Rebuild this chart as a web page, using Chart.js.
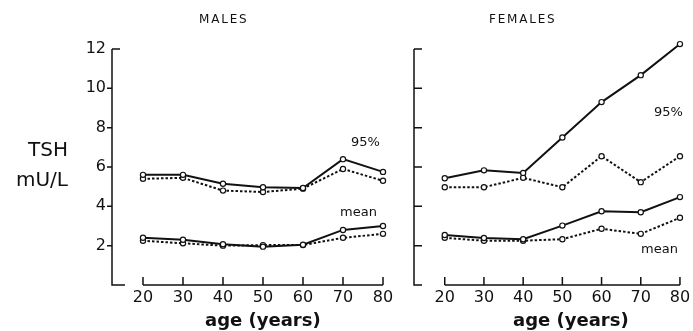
<!DOCTYPE html>
<html>
<head>
<meta charset="utf-8">
<script src="https://cdn.jsdelivr.net/npm/chart.js@4"></script>
<style>
  body { margin: 0; background: #fff; }
  #wrap { position: relative; width: 693px; height: 331px; overflow: hidden; font-family: "DejaVu Sans", sans-serif; color: #111; }
  canvas { position: absolute; top: 0; }
  .lbl { position: absolute; white-space: nowrap; line-height: 1; }
</style>
</head>
<body>
<div id="wrap">
  <canvas id="males" width="400" height="331" style="left:0"></canvas>
  <canvas id="females" width="293" height="331" style="left:400px"></canvas>

  <div class="lbl" style="left:199px; top:13px; font-size:12px; letter-spacing:1.8px;">MALES</div>
  <div class="lbl" style="left:489px; top:13px; font-size:12px; letter-spacing:1.8px;">FEMALES</div>

  <div class="lbl" style="left:28px; top:139px; font-size:20px;">TSH</div>
  <div class="lbl" style="left:16px; top:169px; font-size:20px;">mU/L</div>

  <div class="lbl" style="left:351px; top:135px; font-size:13px;">95%</div>
  <div class="lbl" style="left:340px; top:205px; font-size:13px;">mean</div>
  <div class="lbl" style="left:654px; top:105px; font-size:13px;">95%</div>
  <div class="lbl" style="left:641px; top:242px; font-size:13px;">mean</div>

  <div class="lbl" style="left:205px; top:311px; font-size:18px; font-weight:bold;">age (years)</div>
  <div class="lbl" style="left:513px; top:311px; font-size:18px; font-weight:bold;">age (years)</div>
</div>

<script>
// --- dane ---
const AGES = [20, 30, 40, 50, 60, 70, 80];
const Y_TICKS = [2, 4, 6, 8, 10, 12];

const MALE_95_SOLID    = [5.6, 5.6, 5.15, 4.97, 4.93, 6.4, 5.75];
const MALE_95_DOTTED   = [5.4, 5.45, 4.8, 4.73, 4.9, 5.9, 5.3];
const MALE_MEAN_SOLID  = [2.4, 2.3, 2.07, 1.95, 2.05, 2.8, 3.0];
const MALE_MEAN_DOTTED = [2.25, 2.12, 2.0, 2.03, 2.03, 2.4, 2.6];

const FEMALE_95_SOLID    = [5.43, 5.83, 5.7, 7.5, 9.3, 10.67, 12.25];
const FEMALE_95_DOTTED   = [4.97, 4.97, 5.45, 4.97, 6.55, 5.23, 6.55];
const FEMALE_MEAN_SOLID  = [2.54, 2.39, 2.33, 3.02, 3.75, 3.7, 4.47];
const FEMALE_MEAN_DOTTED = [2.4, 2.25, 2.25, 2.33, 2.86, 2.6, 3.42];

const INK = '#111';

function toPoints(values) {
    return AGES.map((a, i) => ({ x: a, y: values[i] }));
}

function lineSet(values, dotted) {
    return {
        data: toPoints(values),
        borderColor: INK,
        borderWidth: 2,
        borderDash: dotted ? [2.5, 2] : [],
        pointRadius: 2.6,
        pointBackgroundColor: '#fff',
        pointBorderColor: INK,
        pointBorderWidth: 1.2,
        tension: 0,
        clip: false
    };
}

// rysowanie osi "recznie" (styl jak w oryginale: oderwana os X)
const axesPlugin = {
    id: 'paperAxes',
    beforeDatasetsDraw(chart, args, opts) {
        const ctx = chart.ctx;
        const xs = chart.scales.x, ys = chart.scales.y;
        const x0 = xs.left;
        const yBottom = ys.getPixelForValue(0);
        const yTop = ys.getPixelForValue(12);
        ctx.save();
        ctx.strokeStyle = INK;
        ctx.lineWidth = 1.5;
        ctx.beginPath();
        // os Y + krotka stopka
        ctx.moveTo(x0, yTop);
        ctx.lineTo(x0, yBottom);
        ctx.lineTo(x0 + opts.foot, yBottom);
        // znaczniki Y
        Y_TICKS.forEach(t => {
            const py = ys.getPixelForValue(t);
            if (t === 12 || opts.inward) {
                ctx.moveTo(x0, py);
                ctx.lineTo(x0 + 8, py);
            } else {
                ctx.moveTo(x0 - 5, py);
                ctx.lineTo(x0, py);
            }
        });
        // os X od 20 do 80
        const xa = xs.getPixelForValue(AGES[0]);
        const xb = xs.getPixelForValue(AGES[AGES.length - 1]);
        ctx.moveTo(xa, yBottom);
        ctx.lineTo(xb, yBottom);
        AGES.forEach(a => {
            const px = xs.getPixelForValue(a);
            ctx.moveTo(px, yBottom);
            ctx.lineTo(px, yBottom - 8);
        });
        ctx.stroke();

        ctx.fillStyle = INK;
        ctx.font = '16px "DejaVu Sans", sans-serif';
        ctx.textAlign = 'center';
        ctx.textBaseline = 'middle';
        AGES.forEach(a => {
            ctx.fillText(String(a), xs.getPixelForValue(a), yBottom + 13);
        });
        if (opts.yLabels) {
            ctx.textAlign = 'right';
            Y_TICKS.forEach(t => {
                ctx.fillText(String(t), x0 - 6, ys.getPixelForValue(t));
            });
        }
        ctx.restore();
    }
};

function makePanel(id, sets, xMin, xMax, pad, axisOpts) {
    return new Chart(document.getElementById(id), {
        type: 'line',
        data: { datasets: sets },
        options: {
            responsive: false,
            animation: false,
            layout: { padding: pad },
            plugins: {
                legend: { display: false },
                tooltip: { enabled: false },
                paperAxes: axisOpts
            },
            scales: {
                x: { type: 'linear', min: xMin, max: xMax, display: false },
                y: { type: 'linear', min: 0, max: 12, display: false }
            }
        },
        plugins: [axesPlugin]
    });
}

makePanel('males', [
    lineSet(MALE_95_SOLID, false),
    lineSet(MALE_95_DOTTED, true),
    lineSet(MALE_MEAN_SOLID, false),
    lineSet(MALE_MEAN_DOTTED, true)
], 12.25, 81, { left: 112, right: 13, top: 49, bottom: 46 }, { yLabels: true, inward: false, foot: 13 });

makePanel('females', [
    lineSet(FEMALE_95_SOLID, false),
    lineSet(FEMALE_95_DOTTED, true),
    lineSet(FEMALE_MEAN_SOLID, false),
    lineSet(FEMALE_MEAN_DOTTED, true)
], 12.155, 82, { left: 14, right: 3, top: 49, bottom: 46 }, { yLabels: false, inward: true, foot: 8 });
</script>
</body>
</html>
